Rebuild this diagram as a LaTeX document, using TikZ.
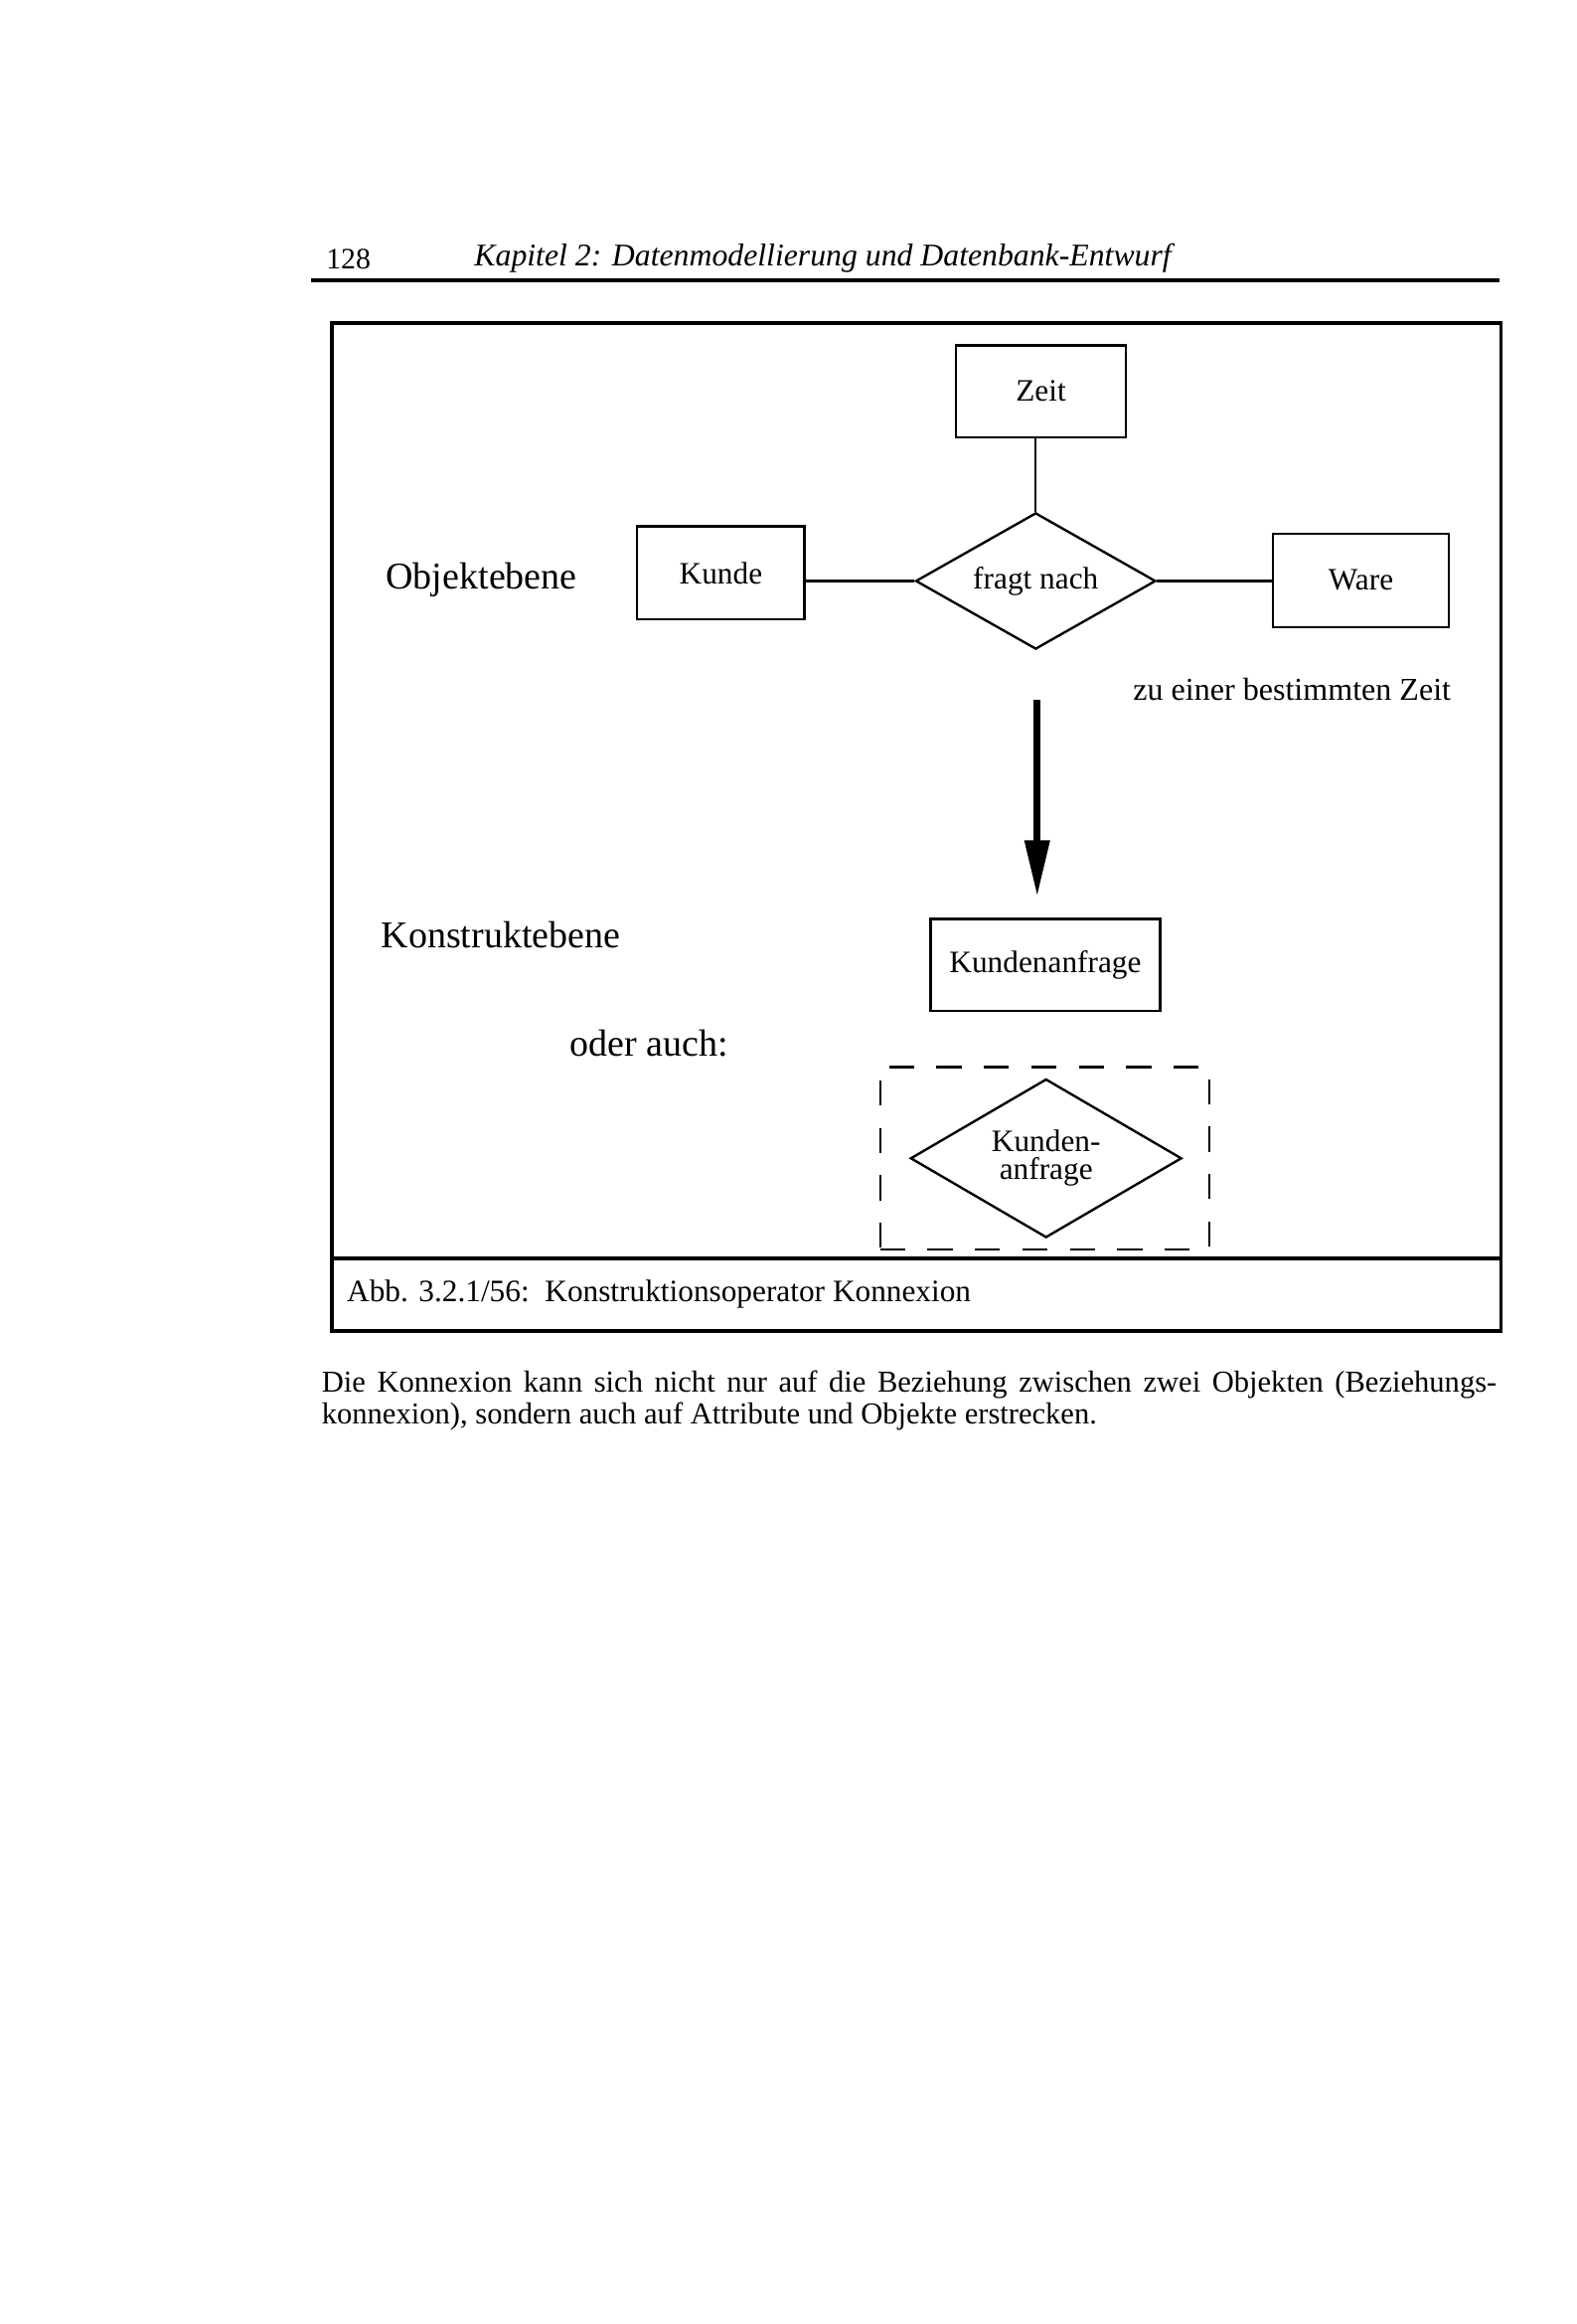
\documentclass[tikz,border=0pt]{standalone}
\usepackage{fontspec}
\setmainfont{Liberation Serif}
\usetikzlibrary{shapes.geometric,arrows.meta}
\begin{document}
\begin{tikzpicture}[x=1pt,y=-1pt,
  ent/.style={draw, line width=1.6pt, inner sep=0pt, font=\fontsize{21}{23}\selectfont},
  rel/.style={draw, diamond, line width=1.6pt, inner sep=0pt, font=\fontsize{21}{19}\selectfont, align=center},
  conn/.style={line width=1.6pt},
  lvl/.style={font=\fontsize{25.5}{28}\selectfont, inner sep=0pt},
  note/.style={font=\fontsize{21.5}{24}\selectfont, inner sep=0pt},
  frame/.style={line width=2.4pt},
  dashbox/.style={draw, line width=1.6pt, dash pattern=on 17pt off 15pt, inner sep=0pt},
  bigarrow/.style={line width=5pt, -{Triangle[length=38pt,width=16pt]}},
  body/.style={font=\fontsize{20.5}{22}\selectfont, inner sep=0pt, anchor=west}
]
\useasboundingbox[fill=white] (0,0) rectangle (1064,1568);

% page header
\node[inner sep=0pt, anchor=south west, font=\fontsize{20}{22}\selectfont] (pg) at (220,182) {128};
\node[inner sep=0pt, anchor=south west, font=\itshape\fontsize{21.3}{23}\selectfont] (hd) at (320,184) {Kapitel 2: Datenmodellierung und Datenbank-Entwurf};
\draw[line width=2.4pt] (210,189) -- (1012,189);

% frame
\draw[frame] (224,218) rectangle (1013,898);
\draw[frame] (224,849) -- (1013,849);

% object level
\node[ent, minimum width=115pt, minimum height=62pt] (zeit) at (702.5,264) {Zeit};
\node[ent, minimum width=113pt, minimum height=63pt] (kunde) at (486.5,386.5) {Kunde};
\node[ent, minimum width=119pt, minimum height=63pt] (ware) at (918.5,391.5) {Ware};
\node[rel, shape aspect=1.76, minimum width=162pt, minimum height=92pt] (fragt) at (699,392) {fragt nach};
\draw[conn] (zeit.south -| fragt.north) -- (fragt.north);
\draw[conn] (fragt.west) -- (fragt.west -| kunde.east);
\draw[conn] (fragt.east) -- (fragt.east -| ware.west);

\node[lvl] (objl) at (325,391) {Objektebene};
\node[note] (zeitnote) at (872,465) {zu einer bestimmten Zeit};

% arrow to construct level
\coordinate (arrs) at (700,472);
\coordinate (arre) at (700,605);
\draw[bigarrow] (arrs) -- (arre);

\node[lvl] (konl) at (338,631) {Konstruktebene};
\node[ent, minimum width=155pt, minimum height=62pt] (kanf) at (705.5,651) {Kundenanfrage};
\node[lvl] (oder) at (438,704) {oder auch:};

\node[dashbox, minimum width=222pt, minimum height=123pt] (dbox) at (705,781.5) {};
\node[rel, shape aspect=1.71, minimum width=183pt, minimum height=107pt] (kanfd) at (706,781.5) {Kunden-\\anfrage};

% caption
\node[inner sep=0pt, anchor=west, font=\fontsize{21}{23}\selectfont] (cap) at (234,873) {Abb. 3.2.1/56:\ \ Konstruktionsoperator Konnexion};

% body text
\node[body] (p1) at (217,934) {\makebox[793pt][s]{Die Konnexion kann sich nicht nur auf die Beziehung zwischen zwei Objekten (Beziehungs-}};
\node[body] (p2) at (217,956) {konnexion), sondern auch auf Attribute und Objekte erstrecken.};
\end{tikzpicture}
\end{document}
